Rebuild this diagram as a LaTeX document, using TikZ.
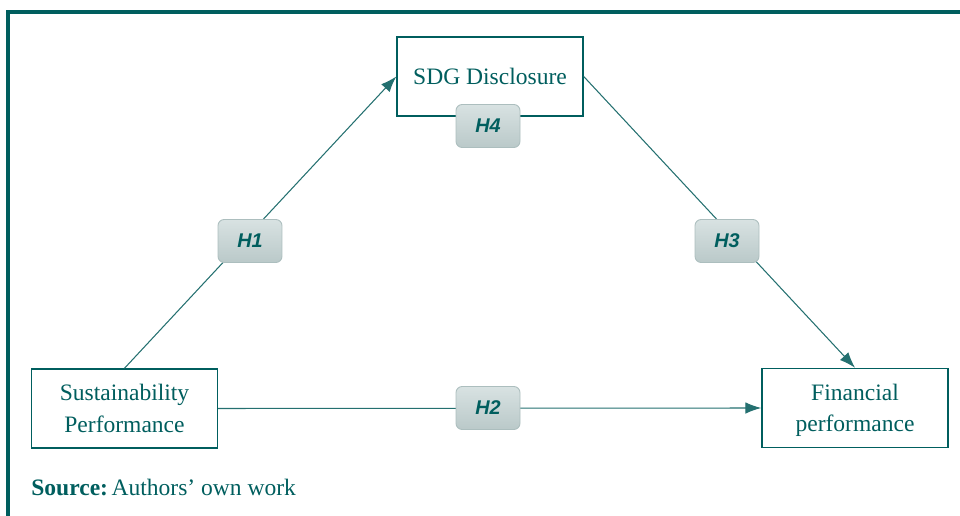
\documentclass[tikz,border=0pt]{standalone}
\usepackage{fontspec}
\setmainfont{Liberation Serif}
\newfontfamily\hypfont{Liberation Sans}
\usepackage{xcolor}
\usetikzlibrary{arrows.meta}

\definecolor{tealdark}{RGB}{0,94,94}
\definecolor{tealline}{RGB}{36,112,112}
\definecolor{hyptop}{RGB}{216,226,226}
\definecolor{hypbot}{RGB}{186,201,201}
\definecolor{hypedge}{RGB}{172,190,190}

\begin{document}
\begin{tikzpicture}[>={Latex[length=9pt,width=6.5pt]}, x=0.02cm, y=-0.02cm,
  varbox/.style={draw=tealdark, line width=0.85pt, fill=white, text=tealdark,
    minimum width=3.72cm, minimum height=1.58cm, align=center, text depth=0pt,
    font=\fontsize{13.4}{18}\selectfont},
  hypbox/.style={draw=hypedge, line width=0.5pt, rounded corners=3.5pt,
    top color=hyptop, bottom color=hypbot, text=tealdark,
    minimum width=1.28cm, minimum height=0.86cm,
    font=\hypfont\bfseries\itshape\fontsize{11.3}{13}\selectfont},
  link/.style={draw=tealline, line width=0.6pt}]
  \useasboundingbox (0,0) rectangle (960,516);

  % frame
  \draw[tealdark, line width=1.8pt] (8,516) -- (8,12) -- (960,12);

  % variables
  \node[varbox] (sdg) at (490,76.5) {SDG Disclosure};
  \node[varbox] (sp) at (124.5,408.5) {Sustainability\\Performance};
  \node[varbox] (fp) at (855,408) {Financial\\performance};

  % paths
  \draw[link,->] (sp.north) -- (sdg.west);
  \draw[link,->] (sdg.east) -- (fp.north);
  \draw[link,->] (sp.east) -- (fp.west);

  % hypotheses
  \node[hypbox] (h4) at (488,126) {H4};
  \node[hypbox] (h1) at (250,241) {H1};
  \node[hypbox] (h3) at (727,241) {H3};
  \node[hypbox] (h2) at (488,408) {H2};

  \node[anchor=base west, text=tealdark, inner sep=0pt,
    font=\fontsize{13.4}{16}\selectfont] (src) at (31,496)
    {\textbf{Source:}\hspace{0.15em}Authors’ own work};
\end{tikzpicture}
\end{document}
